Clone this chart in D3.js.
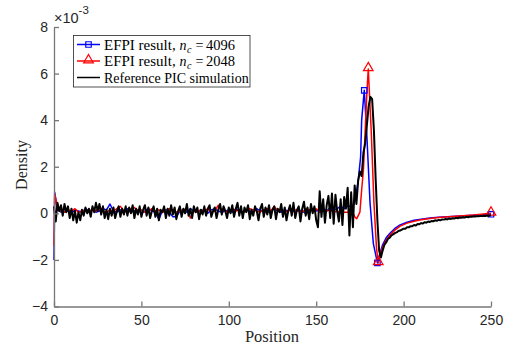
<!DOCTYPE html>
<html>
<head>
<meta charset="utf-8">
<script src="https://cdn.jsdelivr.net/npm/d3@7"></script>
<style>
  html, body { margin: 0; padding: 0; background: #fff; }
  svg { display: block; }
</style>
</head>
<body>
<div id="chart"></div>
<script>
// values are in units of 1e-3
const xTicks = [0, 50, 100, 150, 200, 250];
const yTicks = [-4, -2, 0, 2, 4, 6, 8];

// Reference PIC simulation, one sample per position 0..250
const picY = [
  0.3, -0.35, 0.45, 0.1, 0.35, -0.1, 0.4, 0.05, 0.3, -0.2,
  0.2, -0.3, 0.1, -0.4, 0.05, -0.3, 0.15, -0.1, 0.25, 0.0,
  0.2, -0.15, 0.3, 0.05, 0.45, 0.1, 0.4, -0.05, 0.3, -0.2,
  0.15, -0.25, 0.2, -0.1, 0.25, -0.2, 0.1, 0.3, -0.15, 0.2,
  -0.05, 0.3, -0.1, 0.25, 0.0, 0.35, -0.2, 0.2, -0.05, 0.3,
  -0.15, 0.15, 0.35, -0.1, 0.25, -0.2, 0.1, 0.3, -0.15, 0.2,
  -0.3, 0.15, 0.05, 0.3, -0.2, 0.2, -0.1, 0.35, -0.05, 0.25,
  -0.25, 0.1, 0.3, -0.15, 0.2, 0.0, 0.4, -0.1, 0.2, -0.2,
  0.3, 0.05, 0.25, -0.25, 0.15, -0.05, 0.3, -0.1, 0.2, 0.35,
  -0.15, 0.1, 0.25, -0.2, 0.15, 0.4, -0.05, 0.3, 0.1, -0.2,
  0.25, 0.0, 0.35, -0.15, 0.2, 0.45, -0.1, 0.3, -0.2, 0.25,
  0.05, 0.35, -0.25, 0.15, -0.1, 0.3, 0.1, -0.3, 0.2, 0.4,
  -0.15, 0.25, -0.05, 0.35, -0.2, 0.15, 0.3, -0.25, 0.2, 0.05,
  0.4, -0.15, 0.25, -0.3, 0.1, 0.35, -0.1, 0.45, -0.2, 0.15,
  0.3, -0.35, 0.2, 0.5, -0.1, 0.25, -0.25, 0.4, 0.0, 0.3,
  -0.3, -0.6, 0.95, -0.15, 0.6, -0.4, 0.35, 0.75, -0.2, 0.85,
  -0.45, 0.8, 0.1, -0.35, 0.6, -0.5, 0.7, 0.2, 1.1, -0.95,
  0.9, -0.6, 1.2, 0.4, 1.4, 1.8, 1.6, 2.6, 3.0, 3.8,
  4.6, 5.0, 4.9, 3.6, 1.5, -0.3, -1.6, -1.9, -1.6, -1.35,
  -1.25, -1.1, -1.05, -0.95, -0.9, -0.85, -0.82, -0.76, -0.74, -0.7,
  -0.66, -0.66, -0.6, -0.6, -0.55, -0.55, -0.5, -0.52, -0.46, -0.47,
  -0.42, -0.44, -0.38, -0.4, -0.35, -0.37, -0.33, -0.34, -0.3, -0.32,
  -0.28, -0.3, -0.26, -0.27, -0.24, -0.26, -0.22, -0.24, -0.21, -0.22,
  -0.19, -0.21, -0.18, -0.19, -0.17, -0.18, -0.15, -0.17, -0.14, -0.15,
  -0.13, -0.14, -0.12, -0.13, -0.11, -0.12, -0.1, -0.11, -0.09, -0.1,
  -0.08
];

// EFPI n_c = 4096 : flat part sampled every 2 positions, then the shock
const blueFlatY = [
  -2.0, 0.9, 0.15, 0.05, 0.2, 0.1, 0.0, 0.15, 0.1, 0.05,
  0.2, 0.1, 0.15, 0.05, 0.1, 0.2, 0.15, 0.4, 0.1, 0.05,
  0.15, 0.1, 0.2, 0.05, 0.1, 0.15, 0.0, 0.1, 0.2, 0.1,
  0.05, -0.25, 0.1, 0.15, 0.05, -0.15, -0.15, 0.1, 0.15, 0.05,
  0.2, 0.1, 0.05, 0.15, 0.1, 0.0, 0.15, 0.2, 0.1, 0.05,
  0.1, 0.15, 0.05, 0.2, 0.1, 0.0, 0.15, 0.1, 0.05, 0.2,
  0.1, 0.15, 0.05, 0.1, 0.2, 0.1, 0.05, 0.15, 0.1, 0.2,
  0.05, 0.15, 0.1, 0.0, 0.15, 0.2, 0.1, 0.15, 0.2, 0.1,
  0.25, 0.15, 0.2, 0.3, 0.2, 0.3
];
const blueShockX = [171, 172, 173, 174, 175.4, 176, 177.5, 179, 180.8, 182.7, 185, 186.5, 188, 190, 192.2, 195, 198, 202, 206, 210, 215, 220, 230, 240, 250];
const blueShockY = [0.3, 0.5, 0.9, 1.4, 2.4, 4.0, 5.28, 3.3, 0.45, -1.3, -2.13, -1.7, -1.35, -1.05, -0.86, -0.65, -0.5, -0.38, -0.3, -0.25, -0.2, -0.17, -0.12, -0.08, -0.04];
const blueMarkX = [177.5, 185, 250];

// EFPI n_c = 2048
const redFlatY = [
  -1.4, 0.85, 0.2, 0.1, 0.05, 0.15, 0.1, 0.2, 0.05, 0.1,
  0.15, 0.05, 0.2, 0.1, 0.3, 0.1, 0.05, 0.15, 0.1, 0.2,
  0.3, 0.1, 0.05, 0.2, 0.25, 0.1, 0.15, 0.05, 0.1, 0.2,
  0.1, 0.15, 0.05, 0.1, 0.2, 0.15, 0.05, 0.1, 0.15, 0.2,
  -0.2, 0.1, 0.05, 0.15, 0.1, 0.2, 0.05, 0.1, 0.35, 0.15,
  0.1, 0.05, 0.2, 0.1, 0.15, 0.05, 0.1, 0.2, 0.15, 0.1,
  0.05, 0.15, 0.2, 0.1, 0.3, 0.1, 0.15, 0.05, 0.1, 0.2,
  0.15, 0.1, 0.05, 0.2, 0.15, 0.1, 0.2, 0.05, 0.15, 0.1,
  0.15, 0.05, 0.1, 0.0, 0.05, 0.05
];
const redShockX = [171, 172, 173.2, 175, 176, 177, 178, 179, 179.8, 181.5, 183, 184.5, 185.5, 186.5, 188, 190, 192, 195, 198, 202, 206, 210, 215, 220, 230, 240, 250];
const redShockY = [0.05, -0.15, -0.23, 0.05, 1.0, 1.85, 3.5, 5.2, 6.2, 3.5, 0.5, -1.5, -2.13, -1.8, -1.45, -1.15, -0.95, -0.72, -0.55, -0.42, -0.34, -0.28, -0.22, -0.18, -0.12, -0.07, 0.0];
const redMarkX = [179.8, 185.5, 250];

const legendLabels = [
  { pre: "EFPI result,", num: "4096", color: "#0000ff", marker: "square" },
  { pre: "EFPI result,", num: "2048", color: "#ff0000", marker: "triangle" },
  { text: "Reference PIC simulation", color: "#000000", marker: null },
];

const W = 511, H = 348;
const x = d3.scaleLinear().domain([0, 250]).range([54, 491]);
const y = d3.scaleLinear().domain([-4, 8]).range([306.5, 27]);

const svg = d3.select("#chart").append("svg")
  .attr("width", W).attr("height", H)
  .attr("font-family", "'Liberation Sans', Arial, sans-serif");

function flatX(n) {
  // flat part: 0, 0.4, then every 2 positions
  return [0, 0.4].concat(d3.range(2, 2 * (n - 1), 2)).slice(0, n);
}

const pic = picY.map((v, i) => [i, v]);
const blueFlat = flatX(blueFlatY.length).map((p, i) => [p, blueFlatY[i]]).filter((d) => d[0] < 171);
const blue = blueFlat.concat(blueShockX.map((p, i) => [p, blueShockY[i]]));
const redFlat = flatX(redFlatY.length).map((p, i) => [p, redFlatY[i]]).filter((d) => d[0] < 171);
const red = redFlat.concat(redShockX.map((p, i) => [p, redShockY[i]]));

const line = d3.line().x((d) => x(d[0])).y((d) => y(d[1]));

const plot = svg.append("g");

plot.append("path").datum(blue).attr("d", line)
  .attr("fill", "none").attr("stroke", "#0000ff").attr("stroke-width", 1.5).attr("stroke-linejoin", "round");
plot.append("path").datum(red).attr("d", line)
  .attr("fill", "none").attr("stroke", "#ff0000").attr("stroke-width", 1.5).attr("stroke-linejoin", "round");

const sq = d3.symbol().type(d3.symbolSquare).size(30);
const tri = d3.symbol().type(d3.symbolTriangle).size(40);

const valueAt = (arr, p) => { const f = arr.find((d) => d[0] === p); return f ? f[1] : 0; };

plot.selectAll(".mk-blue").data(blueMarkX).join("path")
  .attr("transform", (p) => `translate(${x(p)},${y(valueAt(blue, p))})`)
  .attr("d", sq).attr("fill", "none").attr("stroke", "#0000ff").attr("stroke-width", 1.2);
plot.selectAll(".mk-red").data(redMarkX).join("path")
  .attr("transform", (p) => `translate(${x(p)},${y(valueAt(red, p)) - 1})`)
  .attr("d", tri).attr("fill", "none").attr("stroke", "#ff0000").attr("stroke-width", 1.2);

plot.append("path").datum(pic).attr("d", line)
  .attr("fill", "none").attr("stroke", "#000").attr("stroke-width", 2).attr("stroke-linejoin", "round");

// axes (box off, ticks inward)
const axisColor = "#777";
const xAxis = svg.append("g").attr("transform", `translate(0,${y(-4)})`)
  .call(d3.axisBottom(x).tickValues(xTicks).tickSizeInner(-5).tickSizeOuter(0).tickPadding(9));
const yAxis = svg.append("g").attr("transform", `translate(${x(0)},0)`)
  .call(d3.axisLeft(y).tickValues(yTicks).tickSizeInner(-5).tickSizeOuter(0).tickPadding(6));
[xAxis, yAxis].forEach((a) => {
  a.select(".domain").attr("stroke", axisColor).attr("stroke-width", 1.3);
  a.selectAll(".tick line").attr("stroke", axisColor).attr("stroke-width", 1.3);
  a.selectAll(".tick text").attr("fill", "#262626").attr("font-size", "14px")
    .attr("font-family", "'Liberation Sans', Arial, sans-serif");
});

// exponent label
const ex = svg.append("text").attr("x", 54).attr("y", 23).attr("fill", "#262626").attr("font-size", "14.5px");
ex.append("tspan").text("\u00d710");
ex.append("tspan").attr("dy", -9).attr("font-size", "11.5px").text("-3");

// axis titles
const serif = "'Liberation Serif', 'Times New Roman', serif";
svg.append("text").attr("x", 272).attr("y", 342).attr("text-anchor", "middle")
  .attr("font-family", serif).attr("font-size", "16.5px").attr("fill", "#262626").text("Position");
svg.append("text").attr("transform", "translate(27,165) rotate(-90)").attr("text-anchor", "middle")
  .attr("font-family", serif).attr("font-size", "16px").attr("fill", "#262626").text("Density");

// legend
const lg = svg.append("g").attr("font-family", serif);
lg.append("rect").attr("x", 73.5).attr("y", 35.5).attr("width", 176.5).attr("height", 51.5)
  .attr("fill", "#fff").attr("stroke", "#262626").attr("stroke-width", 0.8);
const rowY = [44.5, 61, 77.5];
legendLabels.forEach((d, i) => {
  const cy = rowY[i];
  lg.append("line").attr("x1", 77).attr("x2", 100).attr("y1", cy).attr("y2", cy)
    .attr("stroke", d.color).attr("stroke-width", 1.5);
  if (d.marker === "square") {
    lg.append("path").attr("transform", `translate(88.5,${cy})`).attr("d", sq)
      .attr("fill", "none").attr("stroke", d.color).attr("stroke-width", 1.2);
  } else if (d.marker === "triangle") {
    lg.append("path").attr("transform", `translate(88.5,${cy - 1})`).attr("d", tri)
      .attr("fill", "none").attr("stroke", d.color).attr("stroke-width", 1.2);
  }
  const t = lg.append("text").attr("x", 104).attr("y", cy + 5).attr("font-size", "14px").attr("fill", "#000");
  if (d.text) {
    t.text(d.text);
  } else {
    t.append("tspan").attr("font-size", "15px").text(d.pre);
    t.append("tspan").attr("x", 179.5).attr("font-style", "italic").text("n");
    t.append("tspan").attr("x", 187).attr("dy", 3).attr("font-style", "italic").attr("font-size", "10px").text("c");
    t.append("tspan").attr("x", 195.5).attr("dy", -3).text("=");
    t.append("tspan").attr("x", 206).attr("font-size", "14.5px").text(d.num);
  }
});
</script>
</body>
</html>
